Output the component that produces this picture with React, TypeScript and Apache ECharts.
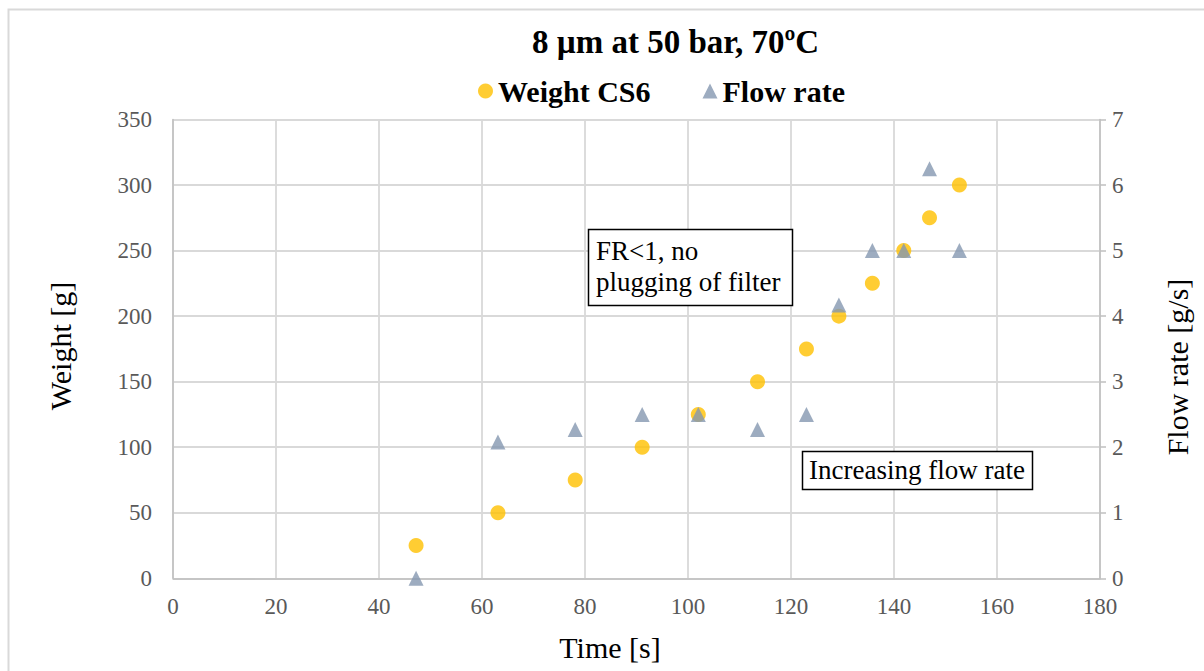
import React, { useEffect, useRef } from "react";
import * as echarts from "echarts";

const timeS = [47.2, 63.1, 78.1, 91.1, 102.0, 113.5, 123.0, 129.3, 135.8, 141.9, 146.9, 152.7];
const weightG = [25, 50, 75, 100, 125, 150, 175, 200, 225, 250, 275, 300];
const flowRate = [0, 2.08, 2.27, 2.5, 2.5, 2.27, 2.5, 4.17, 5, 5, 6.25, 5];

const titleText = "8 µm at 50 bar, 70ºC";
const seriesNames = ["Weight CS6", "Flow rate"];
const annotation1 = "FR<1, no\nplugging of filter";
const annotation2 = "Increasing flow rate";

const FONT = "Liberation Serif";
const GRID = "#D9D9D9";
const AXIS = "#BFBFBF";
const LABEL = "#595959";

export default function App() {
  const ref = useRef<HTMLDivElement>(null);
  useEffect(() => {
    if (!ref.current) return;
    const chart = echarts.init(ref.current, undefined, { renderer: "svg" });
    const weightData = timeS.map((t, i) => [t, weightG[i]]);
    const flowData = timeS.map((t, i) => [t, flowRate[i]]);
    const tickLabel = { fontFamily: FONT, fontSize: 23, color: LABEL };
    chart.setOption({
      animation: false,
      backgroundColor: "#ffffff",
      textStyle: { fontFamily: FONT },
      title: {
        text: titleText,
        left: 527,
        top: 20,
        textStyle: { fontFamily: FONT, fontSize: 33, fontWeight: "bold", color: "#000" },
      },
      legend: {
        left: 473,
        top: 71,
        itemWidth: 15,
        itemHeight: 15,
        itemGap: 52,
        data: [
          { name: seriesNames[0], icon: "circle" },
          { name: seriesNames[1], icon: "triangle" },
        ],
        textStyle: { fontFamily: FONT, fontSize: 30, fontWeight: "bold", color: "#000" },
      },
      grid: {
        left: 173,
        right: 104,
        top: 119.5,
        bottom: 92.7,
        containLabel: false,
        outerBoundsMode: "none",
      },
      xAxis: {
        type: "value",
        min: 0,
        max: 180,
        interval: 20,
        axisLine: { show: true, lineStyle: { color: AXIS, width: 1.5 } },
        axisTick: { show: false },
        splitLine: { show: true, lineStyle: { color: GRID, width: 1.8 } },
        axisLabel: { ...tickLabel, margin: 17 },
      },
      yAxis: [
        {
          type: "value",
          min: 0,
          max: 350,
          interval: 50,
          position: "left",
          axisLine: { show: true, lineStyle: { color: AXIS, width: 1.5 } },
          axisTick: { show: false },
          splitLine: { show: true, lineStyle: { color: GRID, width: 1.8 } },
          axisLabel: { ...tickLabel, margin: 21 },
        },
        {
          type: "value",
          min: 0,
          max: 7,
          interval: 1,
          position: "right",
          axisLine: { show: true, lineStyle: { color: AXIS, width: 1.5 } },
          axisTick: { show: true, inside: false, length: 6, lineStyle: { color: AXIS, width: 1.5 } },
          splitLine: { show: false },
          axisLabel: { ...tickLabel, margin: 12 },
        },
      ],
      series: [
        {
          name: seriesNames[0],
          type: "scatter",
          yAxisIndex: 0,
          symbol: "circle",
          symbolSize: 15,
          itemStyle: { color: "#FFC000" },
          data: weightData,
        },
        {
          name: seriesNames[1],
          type: "scatter",
          yAxisIndex: 1,
          symbol: "triangle",
          symbolSize: 15,
          itemStyle: { color: "#8497B0" },
          data: flowData,
        },
      ],
      graphic: [
        {
          type: "rect",
          silent: true,
          z: 100,
          shape: { x: 8.5, y: 9.5, width: 1400, height: 900 },
          style: { fill: "none", stroke: GRID, lineWidth: 2 },
        },
        {
          type: "text",
          z: 100,
          x: 60,
          y: 346,
          rotation: Math.PI / 2,
          style: {
            text: "Weight [g]",
            fontFamily: FONT,
            fontSize: 30,
            fill: "#000",
            align: "center",
            verticalAlign: "middle",
          },
        },
        {
          type: "text",
          z: 100,
          x: 1177,
          y: 367,
          rotation: Math.PI / 2,
          style: {
            text: "Flow rate [g/s]",
            fontFamily: FONT,
            fontSize: 30,
            fill: "#000",
            align: "center",
            verticalAlign: "middle",
          },
        },
        {
          type: "text",
          z: 100,
          x: 610,
          y: 647,
          style: {
            text: "Time [s]",
            fontFamily: FONT,
            fontSize: 30,
            fill: "#000",
            align: "center",
            verticalAlign: "middle",
          },
        },
        {
          type: "rect",
          z: 100,
          shape: { x: 588.5, y: 229.5, width: 204, height: 76 },
          style: { fill: "#ffffff", stroke: "#000", lineWidth: 1.5 },
        },
        {
          type: "text",
          z: 101,
          x: 596,
          y: 266,
          style: {
            text: annotation1,
            fontFamily: FONT,
            fontSize: 27,
            lineHeight: 31,
            fill: "#000",
            align: "left",
            verticalAlign: "middle",
          },
        },
        {
          type: "rect",
          z: 100,
          shape: { x: 802.5, y: 451.5, width: 230, height: 38 },
          style: { fill: "#ffffff", stroke: "#000", lineWidth: 1.5 },
        },
        {
          type: "text",
          z: 101,
          x: 917,
          y: 470,
          style: {
            text: annotation2,
            fontFamily: FONT,
            fontSize: 27,
            fill: "#000",
            align: "center",
            verticalAlign: "middle",
          },
        },
      ],
    });
    return () => chart.dispose();
  }, []);
  return (
    <div
      ref={ref}
      style={{ position: "absolute", left: 0, top: 0, width: 1204, height: 671 }}
    />
  );
}
